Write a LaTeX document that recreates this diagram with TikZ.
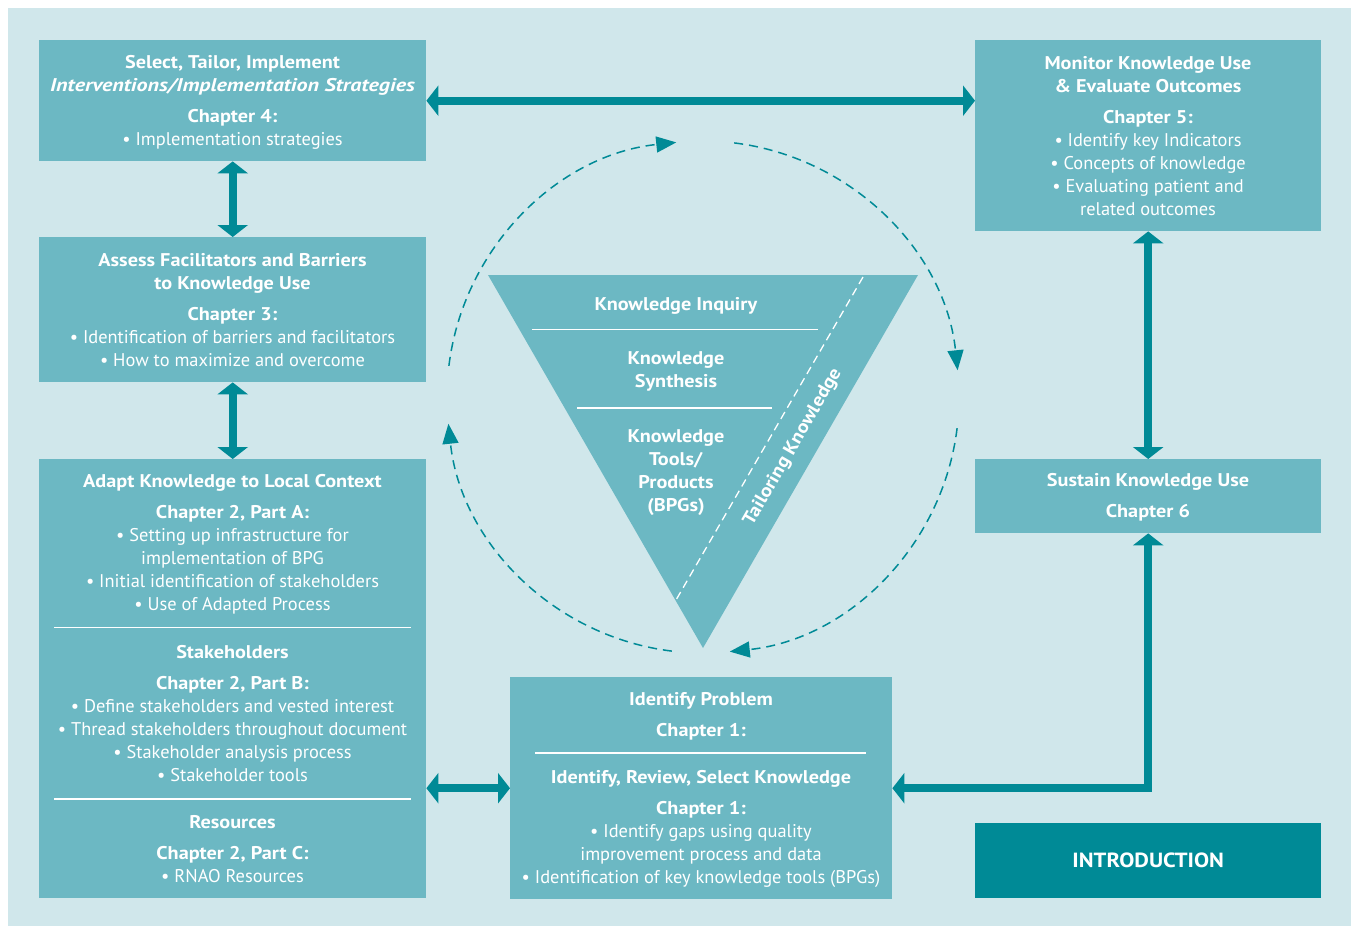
\documentclass[tikz,border=0pt]{standalone}
\usepackage{fontspec}
\setmainfont{PT Sans}[BoldFeatures={FakeStretch=1.1}, BoldItalicFeatures={FakeStretch=1.2}]
\usetikzlibrary{arrows.meta}
\definecolor{bgc}{RGB}{208,231,235}
\definecolor{boxc}{RGB}{108,184,195}
\definecolor{darkc}{RGB}{0,138,150}
\begin{document}
\begin{tikzpicture}[x=1pt,y=-1pt,
  panel/.style={fill=boxc, draw=none, inner sep=0pt, anchor=north west},
  txt/.style={text=white, align=center, font=\fontsize{18.4}{23}\selectfont, anchor=base, inner sep=0pt},
  conn/.style={draw=darkc, line width=8pt, line join=miter, {Triangle[length=12pt,width=30pt]}-{Triangle[length=12pt,width=30pt]}},
  cyc/.style={draw=darkc, line width=1.5pt, dash pattern=on 9pt off 6pt, -{Triangle[length=20pt,width=16pt]}},
  sep/.style={draw=white, line width=1.3pt},
]
\useasboundingbox (0,0) rectangle (1351,926);
\fill[white] (0,0) rectangle (1351,926);
\fill[bgc] (8,8) rectangle (1351,926);

% boxes
\node[panel, minimum width=387pt, minimum height=121pt] (box4) at (39,40) {};
\node[panel, minimum width=387pt, minimum height=145pt] (box3) at (39,237) {};
\node[panel, minimum width=387pt, minimum height=439pt] (box2) at (39,459) {};
\node[panel, minimum width=346pt, minimum height=191pt] (box5) at (975,40) {};
\node[panel, minimum width=346pt, minimum height=74pt] (box6) at (975,459) {};
\node[panel, minimum width=382pt, minimum height=222pt] (box1) at (510,677) {};
\node[panel, fill=darkc, minimum width=346pt, minimum height=75pt, text=white, font=\fontsize{20.5}{24}\selectfont\bfseries] (intro) at (975,823) {INTRODUCTION};

% texts (anchor base = baseline of last line)
\node[txt] (t4) at (232.5,145) {\textbf{Select, Tailor, Implement}\\ \textbf{\textit{Interventions/Implementation Strategies}}\\[8pt] \textbf{Chapter 4:}\\ • Implementation strategies};
\node[txt] (t3) at (232.5,366) {\textbf{Assess Facilitators and Barriers}\\ \textbf{to Knowledge Use}\\[8pt] \textbf{Chapter 3:}\\ • Identification of barriers and facilitators\\ • How to maximize and overcome};
\node[txt] (t2a) at (232.5,610) {\textbf{Adapt Knowledge to Local Context}\\[8pt] \textbf{Chapter 2, Part A:}\\ • Setting up infrastructure for\\ implementation of BPG\\ • Initial identification of stakeholders\\ • Use of Adapted Process};
\node[txt] (t2b) at (232.5,781) {\textbf{Stakeholders}\\[8pt] \textbf{Chapter 2, Part B:}\\ • Define stakeholders and vested interest\\ • Thread stakeholders throughout document\\ • Stakeholder analysis process\\ • Stakeholder tools};
\node[txt] (t2c) at (232.5,882) {\textbf{Resources}\\[8pt] \textbf{Chapter 2, Part C:}\\ • RNAO Resources};
\node[txt] (t5) at (1148,215) {\textbf{Monitor Knowledge Use}\\ \textbf{\& Evaluate Outcomes}\\[8pt] \textbf{Chapter 5:}\\ • Identify key Indicators\\ • Concepts of knowledge\\ • Evaluating patient and\\ related outcomes};
\node[txt] (t6) at (1148,517) {\textbf{Sustain Knowledge Use}\\[8pt] \textbf{Chapter 6}};
\node[txt] (t1a) at (701,736) {\textbf{Identify Problem}\\[8pt] \textbf{Chapter 1:}};
\node[txt] (t1b) at (701,883) {\textbf{Identify, Review, Select Knowledge}\\[8pt] \textbf{Chapter 1:}\\ • Identify gaps using quality\\ improvement process and data\\ • Identification of key knowledge tools (BPGs)};

\draw[sep] (54,627.7) -- (411,627.7);
\draw[sep] (54,799) -- (411,799);
\draw[sep] (535,753) -- (866,753);

% central triangle
\fill[boxc] (488,275) -- (918,275) -- (703,648) -- cycle;
\draw[sep] (532,329.5) -- (818,329.5);
\draw[sep] (577,408) -- (772,408);
\draw[draw=white, line width=1.3pt, dash pattern=on 8pt off 5pt] (863,277) -- (676,600);
\node[txt] (ki) at (676,310) {\textbf{Knowledge Inquiry}};
\node[txt] (ks) at (676,387) {\textbf{Knowledge}\\ \textbf{Synthesis}};
\node[txt] (kt) at (676,511) {\textbf{Knowledge}\\ \textbf{Tools/}\\ \textbf{Products}\\ \textbf{(BPGs)}};
\node[txt, anchor=center, rotate=60] (tk) at (793,447) {\textbf{Tailoring Knowledge}};

% cycle arcs
\coordinate (c) at (703,397);
\draw[cyc] (c) ++(-173:256) arc[start angle=-173, end angle=-96, radius=256];
\draw[cyc] (c) ++(-83:256) arc[start angle=-83, end angle=-6, radius=256];
\draw[cyc] (c) ++(7:256) arc[start angle=7, end angle=84, radius=256];
\draw[cyc] (c) ++(97:256) arc[start angle=97, end angle=174, radius=256];

% connectors
\draw[conn] (box4.east) -- (box4.east -| box5.west);
\draw[conn] (box4.south) -- (box3.north);
\draw[conn] (box3.south) -- (box2.north);
\draw[conn] (box2.east |- box1.west) -- (box1.west);
\draw[conn] (box5.south) -- (box6.north);
\draw[conn] (box6.south) |- (box1.east);
\end{tikzpicture}
\end{document}
